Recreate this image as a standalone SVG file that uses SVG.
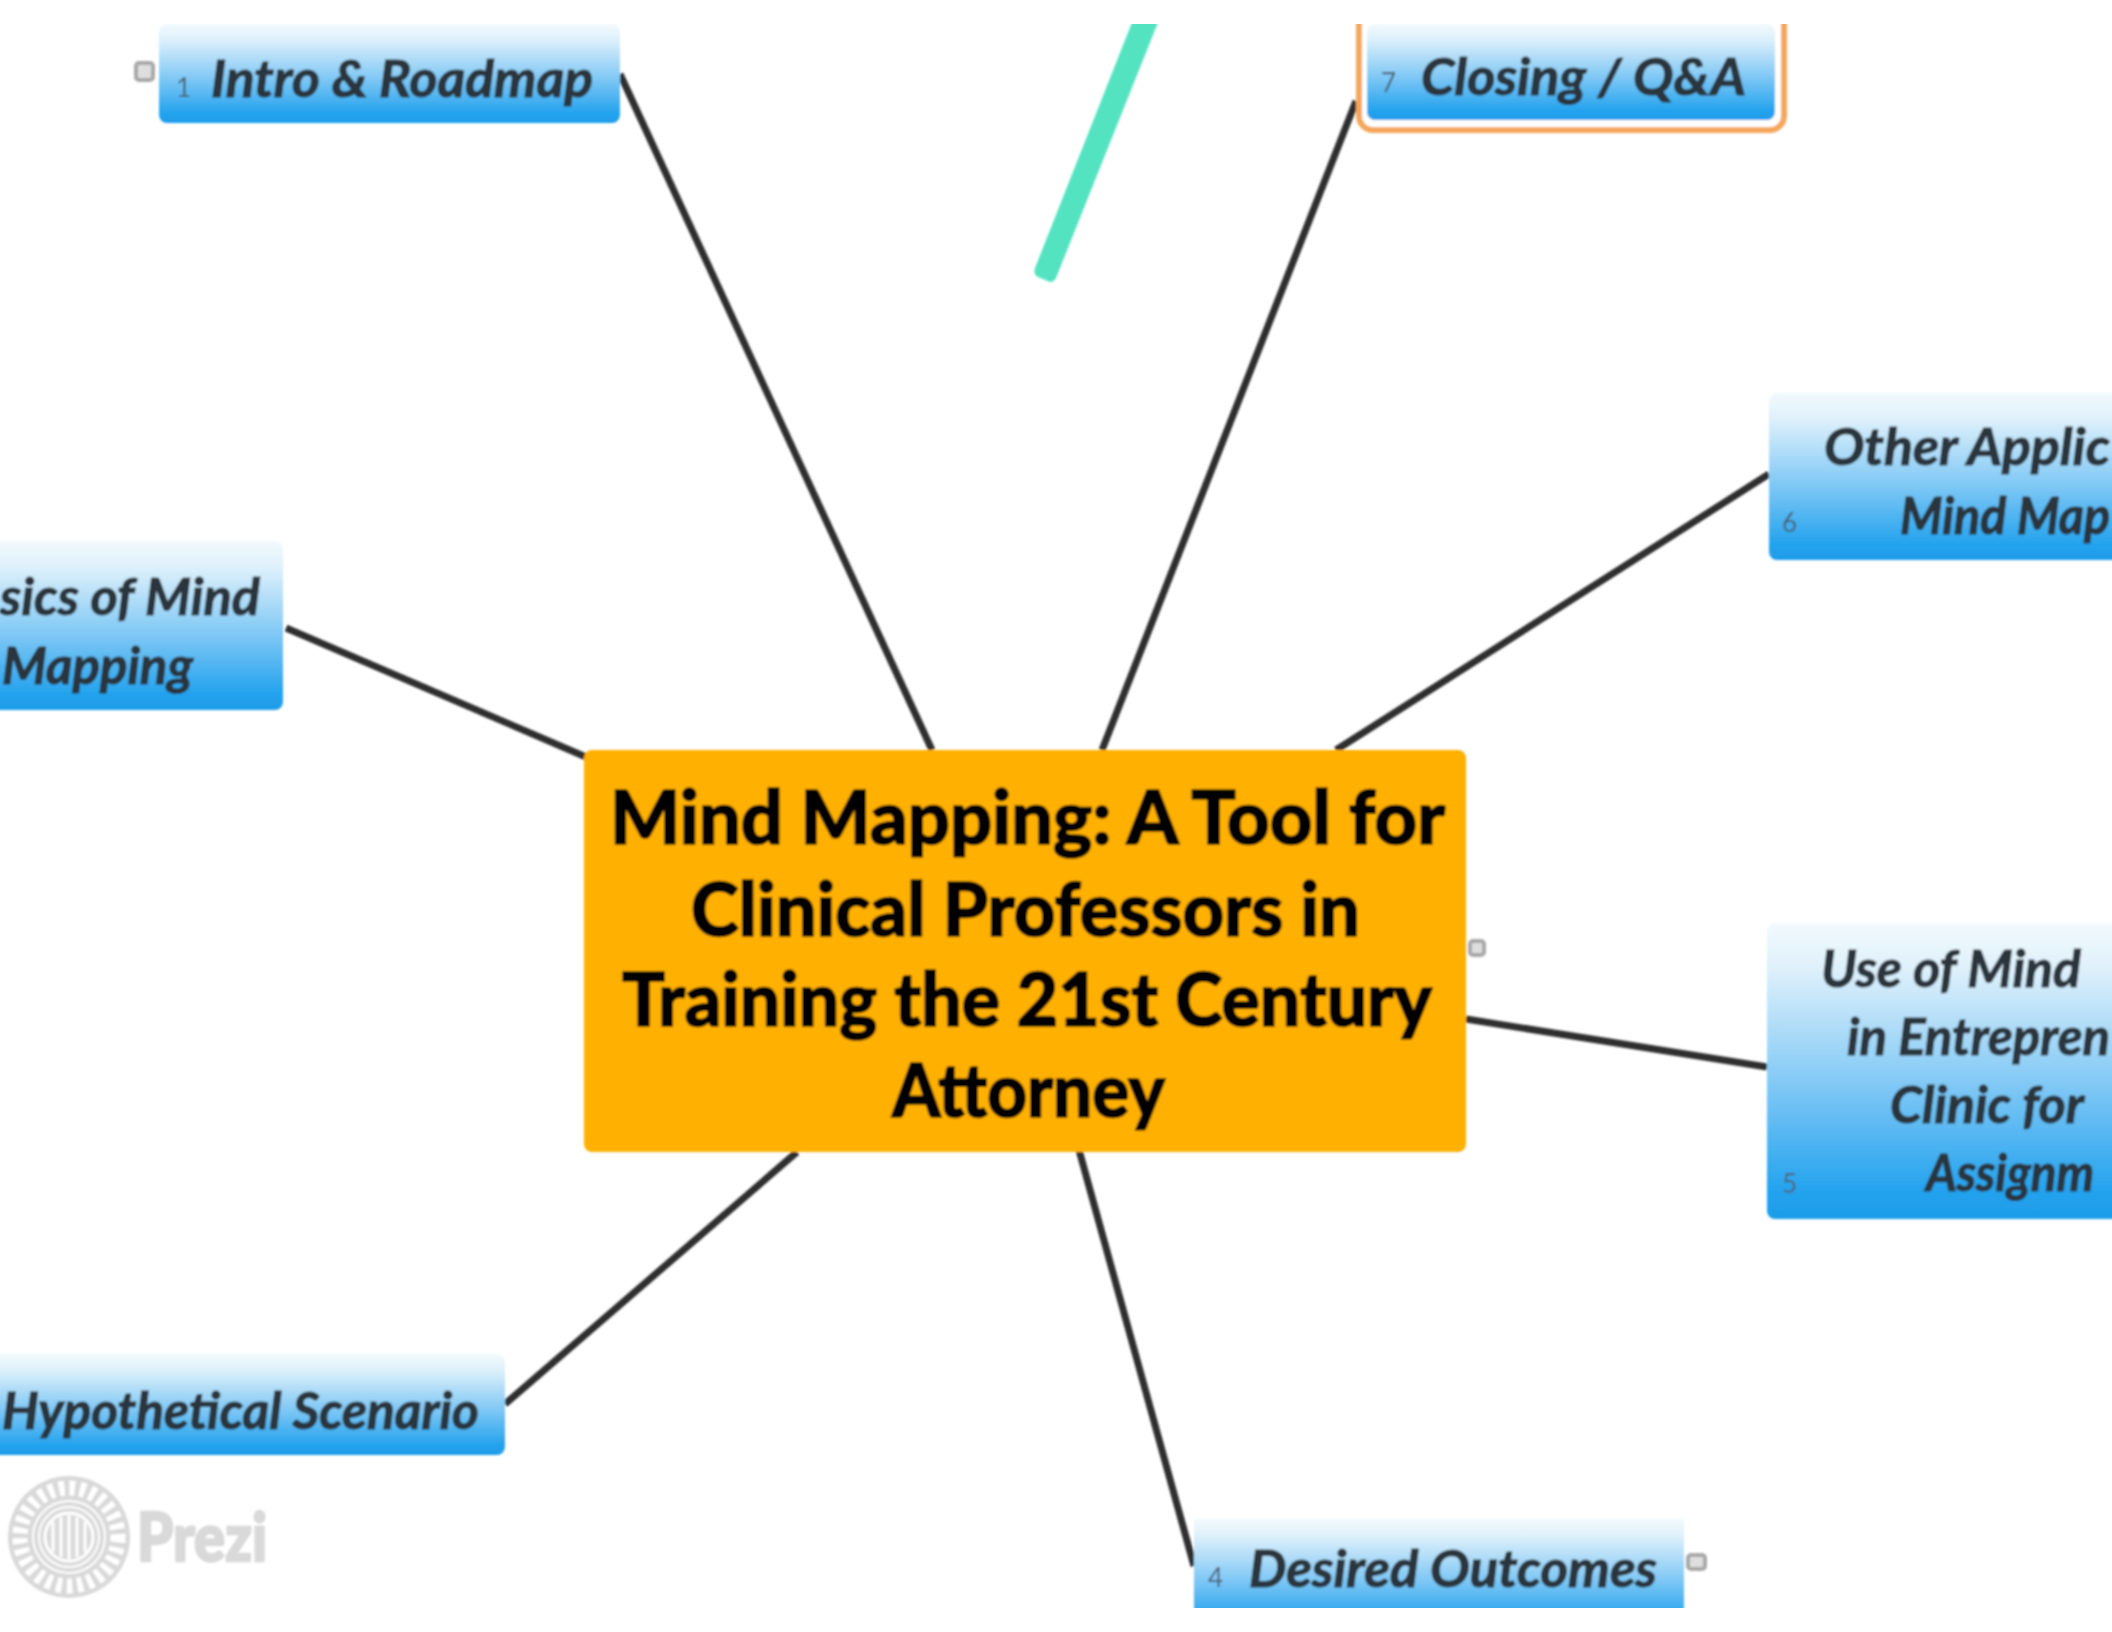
<svg xmlns="http://www.w3.org/2000/svg" width="2112" height="1632" viewBox="0 0 2112 1632">
<defs>
<linearGradient id="blue" x1="0" y1="0" x2="0" y2="1">
<stop offset="0" stop-color="#f2fafd"/><stop offset="0.15" stop-color="#dff1fb"/><stop offset="0.55" stop-color="#80c8f5"/><stop offset="0.9" stop-color="#25a3ee"/><stop offset="1" stop-color="#1d9ce9"/>
</linearGradient>
<clipPath id="frame"><rect x="0" y="24" width="2112" height="1584"/></clipPath>
<filter id="soft" filterUnits="userSpaceOnUse" x="0" y="0" width="2112" height="1632"><feGaussianBlur stdDeviation="1.3"/></filter>
<style>
.topic{fill:url(#blue)}
.t{font-family:"Lato","Liberation Sans",sans-serif;font-weight:700;font-style:italic;font-size:52px;fill:#2c343c;stroke:#2c343c;stroke-width:1.2}
.n{font-family:"Lato","Liberation Sans",sans-serif;font-size:26px;fill:#4a6478}
.c{font-family:"Lato","Liberation Sans",sans-serif;font-weight:900;font-size:74px;fill:#050500;stroke:#050500;stroke-width:1.6}
.link{stroke:#2f2f2f;stroke-width:7;fill:none}
.icon{fill:#dedede;stroke:#a8a8a8;stroke-width:4}
</style>
</defs>
<rect width="2112" height="1632" fill="#fff"/>
<g clip-path="url(#frame)" filter="url(#soft)">
<g id="connectors">
<line class="link" x1="620" y1="74" x2="932" y2="750"/>
<line class="link" x1="1356" y1="101" x2="1102" y2="750"/>
<line class="link" x1="1769" y1="474" x2="1336" y2="750"/>
<line class="link" x1="1466" y1="1019" x2="1767" y2="1067"/>
<line class="link" x1="1079" y1="1150" x2="1194" y2="1566"/>
<line class="link" x1="797" y1="1152" x2="505" y2="1404"/>
<line class="link" x1="286" y1="628" x2="586" y2="757"/>
</g>
<path id="stroke" d="M1133 20L1035 268Q1033 274 1038 277L1050 282Q1054 282 1056 278L1159 20Z" fill="#52e3c0"/>
<g id="center">
<rect x="584" y="750" width="882" height="402" rx="8" fill="#ffb000"/>
<text class="c" x="610" y="844" textLength="835" lengthAdjust="spacingAndGlyphs">Mind Mapping: A Tool for</text>
<text class="c" x="691" y="936" textLength="669" lengthAdjust="spacingAndGlyphs">Clinical Professors in</text>
<text class="c" x="622" y="1026" textLength="810" lengthAdjust="spacingAndGlyphs">Training the 21st Century</text>
<text class="c" x="892" y="1117" textLength="273" lengthAdjust="spacingAndGlyphs">Attorney</text>
<rect class="icon" x="1470" y="941" width="14" height="14" rx="3"/>
</g>
<g id="node-1">
<rect class="icon" x="136" y="63" width="17" height="17" rx="3"/>
<rect class="topic" x="159" y="24" width="461" height="99" rx="8"/>
<text class="n" x="176" y="97">1</text>
<text class="t" x="211" y="97" textLength="382" lengthAdjust="spacingAndGlyphs">Intro &amp; Roadmap</text>
</g>
<g id="node-2">
<rect class="topic" x="-20" y="541" width="303" height="169" rx="8"/>
<text class="t" x="0" y="615" textLength="260" lengthAdjust="spacingAndGlyphs">sics of Mind</text>
<text class="t" x="2" y="684" textLength="191" lengthAdjust="spacingAndGlyphs">Mapping</text>
</g>
<g id="node-3">
<rect class="topic" x="-20" y="1354" width="525" height="101" rx="8"/>
<text class="t" x="2" y="1429" textLength="477" lengthAdjust="spacingAndGlyphs">Hypothetical Scenario</text>
</g>
<g id="node-4">
<rect class="topic" x="1194" y="1519" width="490" height="110"/>
<text class="n" x="1208" y="1587">4</text>
<text class="t" x="1249" y="1587" textLength="408" lengthAdjust="spacingAndGlyphs">Desired Outcomes</text>
<rect class="icon" x="1688" y="1555" width="17" height="14" rx="3"/>
</g>
<g id="node-5">
<rect class="topic" x="1767" y="923" width="370" height="296" rx="8"/>
<text class="n" x="1782" y="1193">5</text>
<text class="t" x="1821" y="987" textLength="260" lengthAdjust="spacingAndGlyphs">Use of Mind</text>
<text class="t" x="1847" y="1055" textLength="263" lengthAdjust="spacingAndGlyphs">in Entrepren</text>
<text class="t" x="1890" y="1123" textLength="194" lengthAdjust="spacingAndGlyphs">Clinic for</text>
<text class="t" x="1926" y="1191" textLength="168" lengthAdjust="spacingAndGlyphs">Assignm</text>
</g>
<g id="node-6">
<rect class="topic" x="1769" y="393" width="370" height="167" rx="8"/>
<text class="n" x="1782" y="532">6</text>
<text class="t" x="1824" y="465" textLength="286" lengthAdjust="spacingAndGlyphs">Other Applic</text>
<text class="t" x="1900" y="534" textLength="210" lengthAdjust="spacingAndGlyphs">Mind Map</text>
</g>
<g id="node-7">
<rect x="1359" y="0" width="425" height="130" rx="14" fill="#fff" stroke="#f4a75c" stroke-width="6"/>
<rect class="topic" x="1367" y="24" width="408" height="96" rx="8"/>
<text class="n" x="1381" y="92">7</text>
<text class="t" x="1421" y="95" textLength="325" lengthAdjust="spacingAndGlyphs">Closing / Q&amp;A</text>
</g>
<g id="prezi-logo">
<circle cx="69" cy="1537" r="61" fill="#d9d9d9"/>
<circle cx="69" cy="1537" r="49" fill="none" stroke="#fff" stroke-width="15" stroke-dasharray="5.5 5"/>
<circle cx="69" cy="1537" r="36" fill="none" stroke="#fff" stroke-width="2"/>
<circle cx="69" cy="1537" r="30" fill="none" stroke="#fff" stroke-width="2"/>
<circle cx="69" cy="1537" r="24" fill="none" stroke="#fff" stroke-width="3"/>
<path d="M53 1522V1552M61 1517V1557M69 1515V1559M77 1517V1557M85 1522V1552" stroke="#fff" stroke-width="3" fill="none"/>
<text x="137" y="1561" font-family="Lato, 'Liberation Sans', sans-serif" font-weight="900" font-size="66" fill="#d9d9d9" stroke="#d9d9d9" stroke-width="2.5" textLength="130" lengthAdjust="spacingAndGlyphs">Prezi</text>
</g>
</g>
</svg>
